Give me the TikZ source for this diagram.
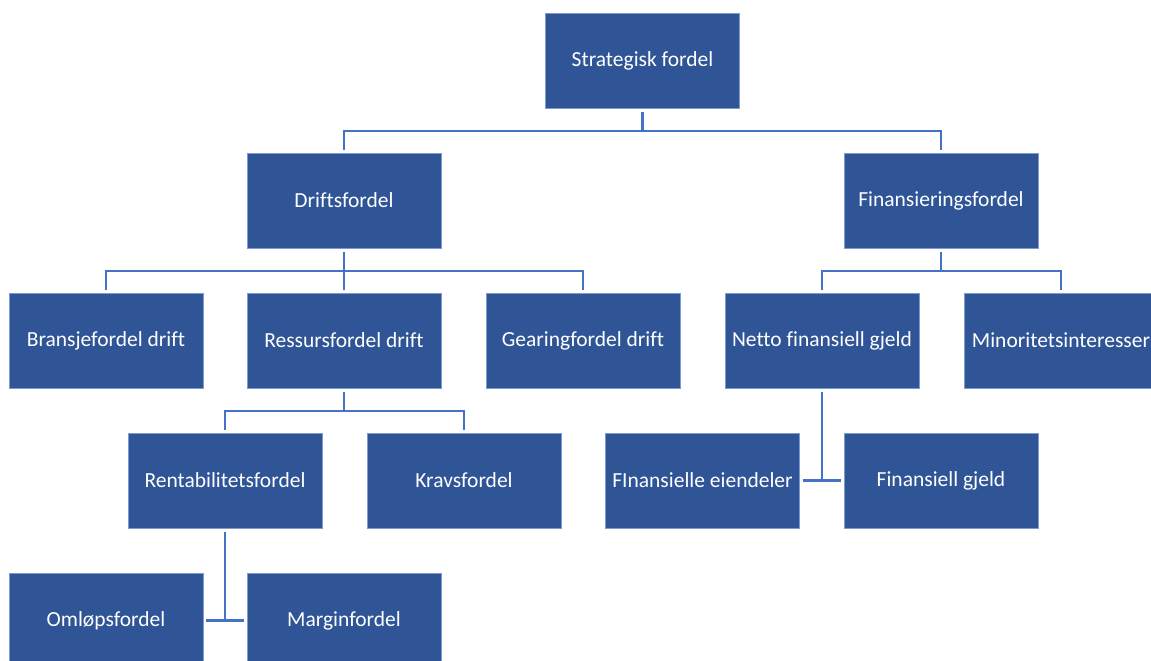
\documentclass[tikz,border=0pt]{standalone}
\usepackage{fontspec}
\setmainfont{Carlito}[Ligatures=NoCommon]
\begin{document}
\begin{tikzpicture}[x=1pt,y=-1pt,
  orgbox/.style={draw=boxedge,line width=0.6pt,fill=boxblue,text=white,
    minimum width=194pt,minimum height=95pt,inner sep=0pt,
    font=\fontsize{21.5}{24}\selectfont},
  conn/.style={draw=linkblue,line width=2.8pt},
  down/.style={conn,shorten <=4pt,shorten >=3pt}]
\definecolor{boxblue}{HTML}{2F5597}
\definecolor{boxedge}{HTML}{7D9BCF}
\definecolor{linkblue}{HTML}{4472C4}
\useasboundingbox (0,0) rectangle (1151,661);
\begin{scope}
\clip (0,0) rectangle (1151,661);
% level 1
\node[orgbox] (sf) at (642.5,60.5) {Strategisk fordel};
% level 2
\node[orgbox] (df) at (344,200.5) {Driftsfordel};
\node[orgbox] (ff) at (941,200.5) {Finansieringsfordel};
% level 3
\node[orgbox] (bf) at (106,340.5) {Bransjefordel drift};
\node[orgbox] (rf) at (344,340.5) {Ressursfordel drift};
\node[orgbox] (gf) at (583,340.5) {Gearingfordel drift};
\node[orgbox] (nf) at (822,340.5) {Netto finansiell gjeld};
\node[orgbox] (mi) at (1061,340.5) {Minoritetsinteresser};
% level 4
\node[orgbox] (re) at (225,480.5) {Rentabilitetsfordel};
\node[orgbox] (kf) at (464,480.5) {Kravsfordel};
\node[orgbox] (fe) at (702.5,480.5) {FInansielle eiendeler};
\node[orgbox] (fg) at (941,480.5) {Finansiell gjeld};
% level 5
\node[orgbox] (om) at (106,620.5) {Omløpsfordel};
\node[orgbox] (ma) at (344,620.5) {Marginfordel};

% tree connectors through horizontal buses
\foreach \p/\c/\y in {sf/df/131, sf/ff/131,
                      df/bf/271, df/rf/271, df/gf/271,
                      ff/nf/271, ff/mi/271,
                      rf/re/411, rf/kf/411}
  \draw[down] (\p.south) -- (\p.south |- 0,\y) -| (\c.north);

% side-attached pairs
\draw[conn,shorten <=4pt] (nf.south) -- (nf.south |- fe.east);
\draw[conn,shorten <=3pt,shorten >=3pt] (fe.east) -- (fg.west);
\draw[conn,shorten <=4pt] (re.south) -- (re.south |- om.east);
\draw[conn,shorten <=3pt,shorten >=3pt] (om.east) -- (ma.west);
\end{scope}
\end{tikzpicture}
\end{document}
